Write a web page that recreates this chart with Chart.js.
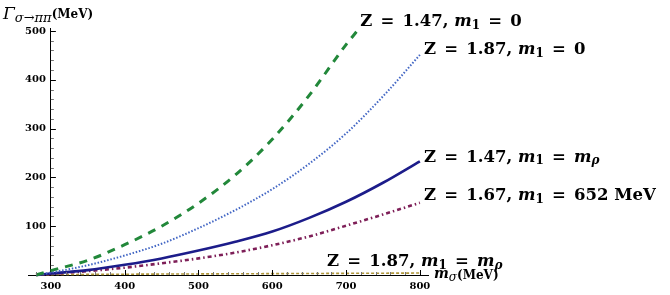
<!DOCTYPE html>
<html>
<head>
<meta charset="utf-8">
<script src="https://cdn.jsdelivr.net/npm/chart.js@4/dist/chart.umd.min.js"></script>
<style>
  html, body { margin: 0; padding: 0; background: #fff; }
  #wrap { width: 670px; height: 295px; }
</style>
</head>
<body>
<div id="wrap"><canvas id="gammaChart" width="670" height="295"></canvas></div>
<script>
// m_sigma (MeV) sample points
const massPoints = [280, 300, 350, 400, 450, 500, 550, 600, 650, 700, 750, 800];
const massPointsShort = [280, 300, 350, 400, 450, 500, 550, 600, 650, 700, 715];

// Gamma(sigma -> pi pi) in MeV
const z147m0 = [0, 9, 30, 62, 100, 147, 205, 278, 368, 472, 500];
const z187m0 = [0, 5, 20, 40, 64, 96, 133, 176, 228, 290, 366, 451];
const z147mrho = [0, 3, 10, 21, 34, 50, 68, 89, 117, 150, 189, 233];
const z167m652 = [0, 2, 8, 15, 24, 34, 46, 61, 79, 101, 124, 148];
const z187mrho = [0, 0.8, 1.2, 1.6, 1.9, 2.2, 2.5, 2.8, 3.1, 3.4, 3.7, 4];

const xTickLabels = [300, 400, 500, 600, 700, 800];
const yTickLabels = [100, 200, 300, 400, 500];

const serif = '"DejaVu Serif", "Liberation Serif", serif';
const EN = '\u2002';

function toPoints(xs, ys) {
    return xs.map((x, i) => ({ x: x, y: ys[i] }));
}

// curve labels: pieces of rich text [text, style]
const eq = EN + '=' + EN;
const curveLabels = [
    { ds: 0, dx: 3, dy: -9, parts: [['Z' + eq + '1.47, ', 'b'], ['m', 'bi'], ['1', 'sub'], [eq + '0', 'b']] },
    { ds: 1, dx: 4, dy: -5, parts: [['Z' + eq + '1.87, ', 'b'], ['m', 'bi'], ['1', 'sub'], [eq + '0', 'b']] },
    { ds: 2, dx: 4, dy: -4, parts: [['Z' + eq + '1.47, ', 'b'], ['m', 'bi'], ['1', 'sub'], [eq, 'b'], ['m', 'bi'], ['ρ', 'subi']] },
    { ds: 3, dx: 4, dy: -7, parts: [['Z' + eq + '1.67, ', 'b'], ['m', 'bi'], ['1', 'sub'], [eq + '652 MeV', 'b']] },
    { ds: 4, dx: -93, dy: -11, parts: [['Z' + eq + '1.87, ', 'b'], ['m', 'bi'], ['1', 'sub'], [eq, 'b'], ['m', 'bi'], ['ρ', 'subi']] }
];

const labelFonts = {
    b: { font: 'bold 16.5px ' + serif, dy: 0 },
    bi: { font: 'italic bold 16.5px ' + serif, dy: 0 },
    sub: { font: 'bold 12px ' + serif, dy: 4 },
    subi: { font: 'italic bold 12px ' + serif, dy: 4 }
};

function drawRich(ctx, x, y, parts, fonts) {
    ctx.textBaseline = 'middle';
    ctx.textAlign = 'left';
    parts.forEach(p => {
        const f = fonts[p[1]];
        ctx.font = f.font;
        ctx.fillText(p[0], x, y + f.dy);
        x += ctx.measureText(p[0]).width;
    });
}

const axisDecor = {
    id: 'axisDecor',
    afterDraw(chart) {
        const ctx = chart.ctx;
        const xs = chart.scales.x;
        const ys = chart.scales.y;
        const x0 = xs.getPixelForValue(300);
        const y0 = ys.getPixelForValue(0);
        ctx.save();
        // inward tick marks, minor every 20
        for (let v = 20; v <= 500; v += 20) {
            const major = v % 100 === 0;
            const py = Math.round(ys.getPixelForValue(v)) + 0.5;
            ctx.strokeStyle = major ? '#000' : '#777';
            ctx.lineWidth = 1;
            ctx.beginPath();
            ctx.moveTo(x0, py);
            ctx.lineTo(x0 + (major ? 5 : 3), py);
            ctx.stroke();
        }
        for (let v = 280; v <= 800; v += 20) {
            if (v === 300) continue;
            const major = v % 100 === 0;
            const px = Math.round(xs.getPixelForValue(v)) + 0.5;
            ctx.strokeStyle = major ? '#000' : '#777';
            ctx.beginPath();
            ctx.moveTo(px, y0);
            ctx.lineTo(px, y0 - (major ? 5 : 3));
            ctx.stroke();
        }

        ctx.fillStyle = '#000';
        // y axis title
        drawRich(ctx, 3, 15, [['Γ', 'g'], ['σ→ππ', 's'], ['(MeV)', 'u']], {
            g: { font: 'italic 17px ' + serif, dy: 0 },
            s: { font: 'italic 13px ' + serif, dy: 4 },
            u: { font: 'bold 12px ' + serif, dy: 0 }
        });
        // x axis title
        drawRich(ctx, xs.right + 6, y0 - 1, [['m', 'g'], ['σ', 's'], ['(MeV)', 'u']], {
            g: { font: 'italic bold 14px ' + serif, dy: 0 },
            s: { font: 'italic 12px ' + serif, dy: 4 },
            u: { font: 'bold 12px ' + serif, dy: 2 }
        });

        // labels at the curve ends
        curveLabels.forEach(l => {
            const meta = chart.getDatasetMeta(l.ds);
            const last = meta.data[meta.data.length - 1];
            drawRich(ctx, last.x + l.dx, last.y + l.dy, l.parts, labelFonts);
        });
        ctx.restore();
    }
};

const lineBase = {
    pointRadius: 0,
    fill: false,
    cubicInterpolationMode: 'monotone',
    clip: false
};

new Chart(document.getElementById('gammaChart').getContext('2d'), {
    type: 'line',
    data: {
        datasets: [
            Object.assign({}, lineBase, {
                label: 'Z = 1.47, m1 = 0',
                data: toPoints(massPointsShort, z147m0),
                borderColor: '#22883a',
                borderWidth: 3,
                borderDash: [8, 7]
            }),
            Object.assign({}, lineBase, {
                label: 'Z = 1.87, m1 = 0',
                data: toPoints(massPoints, z187m0),
                borderColor: '#4266c4',
                borderWidth: 2,
                borderDash: [1.5, 1.8]
            }),
            Object.assign({}, lineBase, {
                label: 'Z = 1.47, m1 = m_rho',
                data: toPoints(massPoints, z147mrho),
                borderColor: '#1c1c8a',
                borderWidth: 2.6
            }),
            Object.assign({}, lineBase, {
                label: 'Z = 1.67, m1 = 652 MeV',
                data: toPoints(massPoints, z167m652),
                borderColor: '#7e1f58',
                borderWidth: 2.6,
                borderDash: [4, 3, 1.5, 3]
            }),
            Object.assign({}, lineBase, {
                label: 'Z = 1.87, m1 = m_rho',
                data: toPoints(massPoints, z187mrho),
                borderColor: '#b0963a',
                borderWidth: 1.6,
                borderDash: [3, 2]
            })
        ]
    },
    options: {
        responsive: false,
        animation: false,
        devicePixelRatio: 1,
        layout: { padding: { left: 28, right: 242, top: 28, bottom: 20 } },
        plugins: {
            legend: { display: false },
            tooltip: { enabled: false }
        },
        scales: {
            x: {
                type: 'linear',
                min: 269,
                max: 811,
                position: { y: 0 },
                grid: { display: false, drawTicks: false },
                border: { display: true, color: '#000', width: 1 },
                ticks: {
                    color: '#000',
                    padding: 5,
                    font: { family: serif, weight: 'bold', size: 10 }
                },
                afterBuildTicks: scale => {
                    scale.ticks = xTickLabels.map(v => ({ value: v }));
                }
            },
            y: {
                type: 'linear',
                min: 0,
                max: 506,
                position: { x: 300 },
                grid: { display: false, drawTicks: false },
                border: { display: true, color: '#000', width: 1 },
                ticks: {
                    color: '#000',
                    padding: 5,
                    font: { family: serif, weight: 'bold', size: 10 },
                    // positioned axis puts labels flush against the line
                    callback: v => v + EN
                },
                afterBuildTicks: scale => {
                    scale.ticks = yTickLabels.map(v => ({ value: v }));
                }
            }
        }
    },
    plugins: [axisDecor]
});
</script>
</body>
</html>
